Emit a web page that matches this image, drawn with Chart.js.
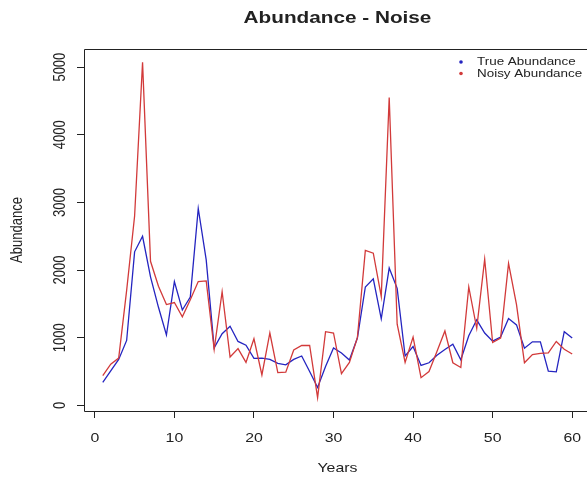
<!DOCTYPE html>
<html>
<head>
<meta charset="utf-8">
<title>Abundance - Noise</title>
<script src="https://cdn.jsdelivr.net/npm/chart.js@4.4.1/dist/chart.umd.min.js"></script>
<style>
  html, body { margin: 0; padding: 0; background: #fff; }
  #wrap { width: 587px; height: 478px; }
</style>
</head>
<body>
<div id="wrap"><canvas id="chart" width="587" height="478"></canvas></div>
<script>
/* ── data ────────────────────────────────────────────────────────────────── */
const years = [
   1,  2,  3,  4,  5,  6,  7,  8,  9, 10, 11, 12, 13, 14, 15, 16, 17, 18, 19, 20,
  21, 22, 23, 24, 25, 26, 27, 28, 29, 30, 31, 32, 33, 34, 35, 36, 37, 38, 39, 40,
  41, 42, 43, 44, 45, 46, 47, 48, 49, 50, 51, 52, 53, 54, 55, 56, 57, 58, 59, 60
];
const trueAbundance = [
   340,  510,  680,  960, 2270, 2500, 1900, 1450, 1040, 1830,
  1410, 1600, 2910, 2150,  850, 1060, 1170,  945,  890,  695,
   700,  680,  620,  600,  680,  730,  500,  265,  575,  850,
   775,  670,  995, 1750, 1870, 1280, 2030, 1730,  730,  870,
   590,  630,  740,  825,  905,  675, 1030, 1265, 1070,  950,
  1010, 1285, 1190,  845,  940,  940,  505,  495, 1090,  995
];
const noisyAbundance = [
   440,  610,  700, 1700, 2800, 5070, 2130, 1760, 1490, 1520,
  1310, 1560, 1830, 1840,  830, 1680,  715,  840,  635,  985,
   450, 1070,  485,  490,  820,  885,  885,  115, 1090, 1070,
   470,  635, 1000, 2290, 2250, 1610, 4550, 1200,  635, 1010,
   410,  500,  795, 1100,  630,  560, 1750, 1140, 2160,  930,
   995, 2100, 1490,  630,  750,  770,  775,  945,  830,  760
];
const xTicks = [0, 10, 20, 30, 40, 50, 60];
const yTicks = [0, 1000, 2000, 3000, 4000, 5000];
const seriesNames = ['True Abundance', 'Noisy Abundance'];

const BLUE = '#2424c0', RED = '#d23a3a', INK = '#222';
const FONT = '"Liberation Sans", Arial, sans-serif';
const STRETCH = 1.22;   // reference text is drawn wide

/* ── helpers ─────────────────────────────────────────────────────────────── */
function wideText(ctx, text, x, y, rot) {
  ctx.save();
  ctx.translate(x, y);
  ctx.scale(STRETCH, 1);
  if (rot) ctx.rotate(rot);
  ctx.fillText(text, 0, 0);
  ctx.restore();
}

// box (right side runs off the picture), labels, title and legend, R style
const rFrame = {
  id: 'rFrame',
  afterDraw(chart) {
    const { ctx, chartArea: a, scales: { x, y } } = chart;
    const L = Math.round(a.left) + .5, T = Math.round(a.top) + .5, B = Math.round(a.bottom) + .5;
    ctx.save();
    ctx.strokeStyle = INK;
    ctx.lineWidth = 1;
    ctx.beginPath();
    ctx.moveTo(a.right + 2, T); ctx.lineTo(L, T); ctx.lineTo(L, B); ctx.lineTo(a.right + 2, B);
    ctx.stroke();

    ctx.fillStyle = INK;
    ctx.textAlign = 'center';
    ctx.textBaseline = 'middle';

    ctx.font = `13px ${FONT}`;
    xTicks.forEach(v => wideText(ctx, String(v), x.getPixelForValue(v), a.bottom + 27));
    yTicks.forEach(v => wideText(ctx, String(v), a.left - 23, y.getPixelForValue(v), -Math.PI / 2));

    wideText(ctx, 'Years', x.getPixelForValue(30.5), a.bottom + 57);
    wideText(ctx, 'Abundance', a.left - 66, (a.top + a.bottom) / 2, -Math.PI / 2);

    ctx.font = `bold 17px ${FONT}`;
    wideText(ctx, 'Abundance - Noise', x.getPixelForValue(30.5), 18);

    // legend, no box
    ctx.font = `11px ${FONT}`;
    ctx.textAlign = 'left';
    [BLUE, RED].forEach((c, i) => {
      const ly = a.top + 13 + i * 11.5;
      ctx.fillStyle = c;
      ctx.beginPath();
      ctx.arc(461, ly, 1.8, 0, Math.PI * 2);
      ctx.fill();
      ctx.fillStyle = INK;
      wideText(ctx, seriesNames[i], 477, ly);
    });
    ctx.restore();
  }
};

const tickMarks = { display: true, drawOnChartArea: false, drawTicks: true, tickLength: 7, color: INK, lineWidth: 1 };

new Chart(document.getElementById('chart'), {
  type: 'line',
  data: {
    datasets: [
      { label: seriesNames[0], data: years.map((t, i) => ({ x: t, y: trueAbundance[i] })),
        borderColor: BLUE, borderWidth: 1.3, pointRadius: 0, tension: 0, order: 1 },
      { label: seriesNames[1], data: years.map((t, i) => ({ x: t, y: noisyAbundance[i] })),
        borderColor: RED, borderWidth: 1.3, pointRadius: 0, tension: 0, order: 0 }
    ]
  },
  options: {
    responsive: false,
    animation: false,
    devicePixelRatio: 1,
    layout: { padding: { top: 49, right: 0, left: 0, bottom: 0 } },
    plugins: { legend: { display: false }, tooltip: { enabled: false } },
    scales: {
      x: {
        type: 'linear', min: -1.36, max: 61.86,
        afterBuildTicks: s => { s.ticks = xTicks.map(v => ({ value: v })); },
        afterFit: s => { s.height = 67; },
        ticks: { display: false },
        grid: tickMarks,
        border: { display: false }
      },
      y: {
        type: 'linear', min: -83, max: 5268,
        afterBuildTicks: s => { s.ticks = yTicks.map(v => ({ value: v })); },
        afterFit: s => { s.width = 84; },
        ticks: { display: false },
        grid: tickMarks,
        border: { display: false }
      }
    }
  },
  plugins: [rFrame]
});
</script>
</body>
</html>
